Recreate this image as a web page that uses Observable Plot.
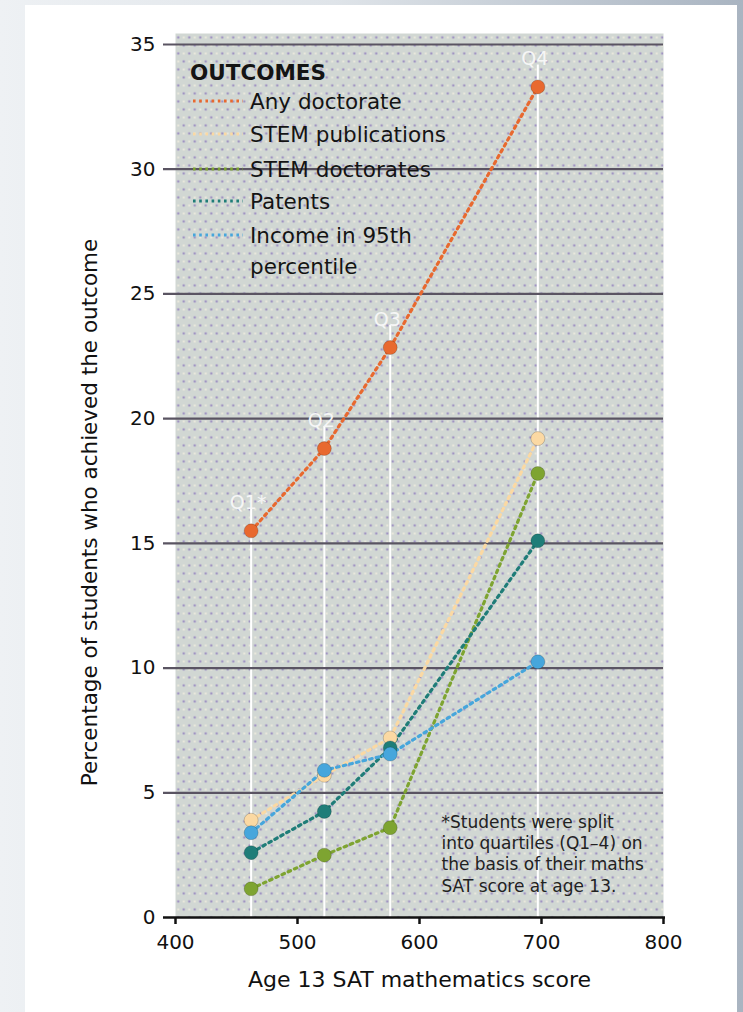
<!DOCTYPE html>
<html><head><meta charset="utf-8">
<script src="https://cdn.jsdelivr.net/npm/d3@7"></script>
<script src="https://cdn.jsdelivr.net/npm/@observablehq/plot@0.6"></script>
<style>
html,body{margin:0;padding:0;}
body{width:743px;height:1012px;overflow:hidden;position:relative;font-family:"DejaVu Sans",sans-serif;
  background:linear-gradient(to right,#eef1f4 0%,#dfe4e9 45%,#a9b4c1 100%);}
#card{position:absolute;left:25px;top:5px;width:712px;height:1007px;background:#fff;}
#chart{position:absolute;left:0;top:0;}
</style></head><body><div id="card"></div><div id="chart"></div>
<script>
// ---- data ----
const scores = [462, 522, 576, 697];
const quartiles = ["Q1*", "Q2", "Q3", "Q4"];
const outcomes = ["Any doctorate", "STEM publications", "STEM doctorates", "Patents", "Income in 95th percentile"];
const anyDoctorate = [15.5, 18.8, 22.85, 33.3];
const stemPublications = [3.9, 5.7, 7.2, 19.2];
const stemDoctorates = [1.15, 2.5, 3.6, 17.8];
const patents = [2.6, 4.25, 6.8, 15.1];
const income = [3.4, 5.9, 6.55, 10.25];
const xTicks = [400, 500, 600, 700, 800];
const yTicks = [0, 5, 10, 15, 20, 25, 30, 35];
const colors = ["#e8692f", "#fbd9a3", "#7ea431", "#1f7d78", "#46a6dc"];
const footnote = "*Students were split\ninto quartiles (Q1\u20134) on\nthe basis of their maths\nSAT score at age 13.";

// ---- tables ----
const series = [anyDoctorate, stemPublications, stemDoctorates, patents, income];
const drawOrder = ["STEM publications", "STEM doctorates", "Patents", "Income in 95th percentile", "Any doctorate"];
const rows = [];
drawOrder.forEach(o => {
  const i = outcomes.indexOf(o);
  scores.forEach((s, j) => rows.push({outcome: o, score: s, value: series[i][j]}));
});
const qRows = scores.map((s, j) => ({score: s, value: anyDoctorate[j], label: quartiles[j]}));

const plot = Plot.plot({
  width: 743, height: 1012,
  marginLeft: 175, marginRight: 80, marginTop: 33, marginBottom: 95,
  style: {fontFamily: "DejaVu Sans, sans-serif", fontSize: "20px", background: "transparent", overflow: "visible"},
  x: {domain: [400, 800]},
  y: {domain: [0, 35.44]},
  color: {domain: outcomes, range: colors},
  marks: [
    Plot.frame({fill: "#d0d6d2", stroke: null}),
    Plot.ruleX(qRows, {x: "score", y1: "value", y2: 0, stroke: "white", strokeWidth: 2, insetTop: -22, insetBottom: -22}),
    Plot.ruleY(yTicks.filter(t => t > 0), {y: d => d, stroke: "#5a5462", strokeWidth: 2.2, insetLeft: -12}),
    Plot.axisY({ticks: yTicks, tickSize: 0, tickPadding: 20, fontSize: 20, fill: "#111", label: null}),
    Plot.ruleY([0], {y: d => d, stroke: "#111", strokeWidth: 2.5, insetLeft: -12, insetRight: -2}),
    Plot.axisX({ticks: xTicks, tickSize: 7, tickPadding: 10, fontSize: 20, stroke: "#111", fill: "#111", strokeWidth: 2.5, label: null, tickFormat: d => String(d)}),
    Plot.line(rows, {x: "score", y: "value", z: "outcome", stroke: "outcome", strokeWidth: 3.2, strokeDasharray: "2.6,4.2"}),
    Plot.dot(rows, {x: "score", y: "value", fill: "outcome", r: 7, stroke: "rgba(0,0,0,0.18)", strokeWidth: 1}),
    Plot.text(qRows, {x: "score", y: "value", text: "label", dy: -28, dx: -3, fill: "#f6f6f6", fontSize: 19}),
    Plot.text(["Age 13 SAT mathematics score"], {text: d => d, frameAnchor: "bottom", dy: 69, fontSize: 22, fill: "#111"}),
    Plot.text(["Percentage of students who achieved the outcome"], {text: d => d, frameAnchor: "left", textAnchor: "middle", rotate: -90, dx: -85, dy: 37, fontSize: 21.5, fill: "#111"}),
    Plot.text([footnote], {text: d => d, frameAnchor: "bottom-left", dx: 266, dy: -26, textAnchor: "start", lineAnchor: "bottom", lineHeight: 1.24, fontSize: 17, fill: "#222"})
  ]
});

// pattern background for the panel
const svg = d3.select(plot);
const defs = svg.insert("defs", ":first-child");
const pat = defs.append("pattern").attr("id", "bgdots").attr("patternUnits", "userSpaceOnUse")
  .attr("width", 11).attr("height", 16).attr("x", 175).attr("y", 33);
pat.append("rect").attr("width", 11).attr("height", 16).attr("fill", "#d1d7d3");
pat.append("circle").attr("cx", 2.75).attr("cy", 4).attr("r", 1.15).attr("fill", "#9888c0");
pat.append("circle").attr("cx", 8.25).attr("cy", 12).attr("r", 1.15).attr("fill", "#9888c0");
pat.append("circle").attr("cx", 8.25).attr("cy", 4).attr("r", 1.0).attr("fill", "#f4efe0");
pat.append("circle").attr("cx", 2.75).attr("cy", 12).attr("r", 1.0).attr("fill", "#f4efe0");
let fr = plot.querySelector('[aria-label="frame"]');
if (fr && fr.tagName.toLowerCase() !== "rect") fr = fr.querySelector("rect");
if (fr) fr.setAttribute("fill", "url(#bgdots)");

// legend
const lg = svg.append("g").attr("font-family", "DejaVu Sans, sans-serif").attr("fill", "#141414").attr("text-anchor", "start");
lg.append("text").attr("x", 190).attr("y", 72).attr("dy", "0.36em").attr("font-size", 21.5).attr("font-weight", "bold").text("OUTCOMES");
const legendY = [101, 134, 169, 201, 235];
outcomes.forEach((o, i) => {
  lg.append("line").attr("x1", 193).attr("x2", 243).attr("y1", legendY[i]).attr("y2", legendY[i])
    .attr("stroke", colors[i]).attr("stroke-width", 3.2).attr("stroke-dasharray", "2.6,3.6");
  const parts = o === "Income in 95th percentile" ? ["Income in 95th", "percentile"] : [o];
  parts.forEach((p, k) => lg.append("text").attr("x", 250).attr("y", legendY[i] + k * 31).attr("dy", "0.36em")
    .attr("font-size", 21.5).text(p));
});

document.getElementById("chart").appendChild(plot);
</script></body></html>
